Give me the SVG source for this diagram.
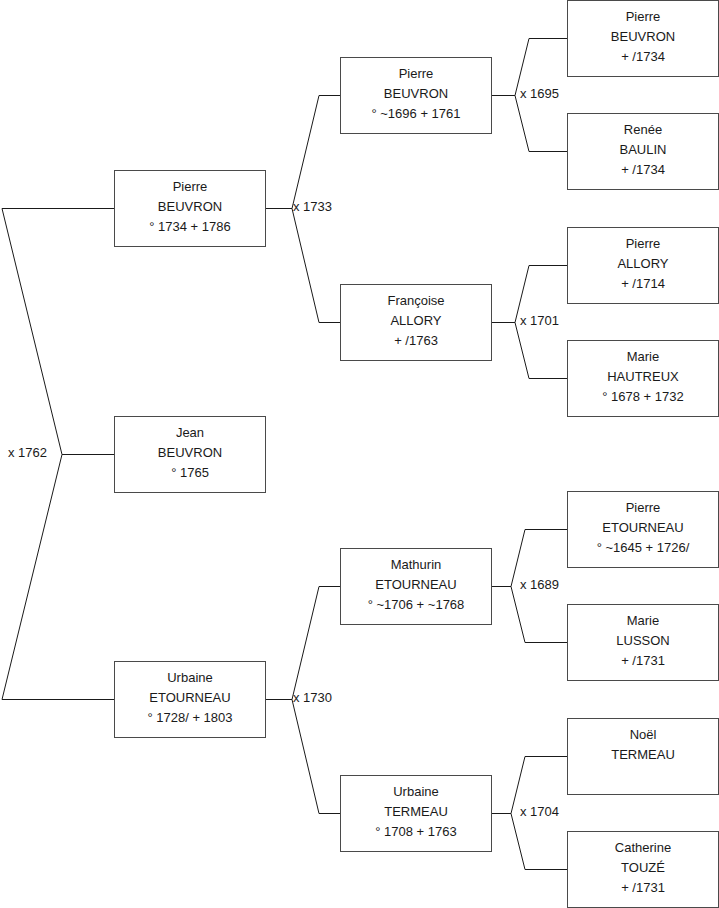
<svg xmlns="http://www.w3.org/2000/svg" width="719" height="908" viewBox="0 0 719 908">
<style>
.box{fill:#fff;stroke:#4a4a4a;stroke-width:1}
.t{font-family:"Liberation Sans",Arial,sans-serif;font-size:13px;fill:#1a1a1a;text-anchor:middle}
.lbl{font-family:"Liberation Sans",Arial,sans-serif;font-size:13px;fill:#1a1a1a}
.ln{fill:none;stroke:#1a1a1a;stroke-width:1}
</style>
<rect width="719" height="908" fill="#fff"/>
<g id="connectors">
<path class="ln" d="M114,208.5 H2 L62,454.5 L2,699.5 H114 M62,454.5 H114"/>
<path class="ln" d="M265,208.5 H292 M340,95.5 H319 L292,208.5 L319,322.5 H340"/>
<path class="ln" d="M265,699.5 H292 M340,586.5 H319 L292,699.5 L319,813.5 H340"/>
<path class="ln" d="M491,95.5 H515 M567,38.5 H529 L515,95.5 L529,151.5 H567"/>
<path class="ln" d="M491,322.5 H515 M567,265.5 H529 L515,322.5 L529,378.5 H567"/>
<path class="ln" d="M491,586.5 H511 M567,529.5 H525 L511,586.5 L525,642.5 H567"/>
<path class="ln" d="M491,813.5 H511 M567,756.5 H525 L511,813.5 L525,869.5 H567"/>
<text class="lbl" x="8" y="456.5">x 1762</text>
<text class="lbl" x="293" y="210.5">x 1733</text>
<text class="lbl" x="293" y="701.5">x 1730</text>
<text class="lbl" x="520" y="97.5">x 1695</text>
<text class="lbl" x="520" y="324.5">x 1701</text>
<text class="lbl" x="520" y="588.5">x 1689</text>
<text class="lbl" x="520" y="815.5">x 1704</text>
</g>
<g id="n-pierre-beuvron-1734">
<rect class="box" x="114.5" y="170.5" width="151" height="76"/>
<text class="t" x="190" y="190.5">Pierre</text><text class="t" x="190" y="210.5">BEUVRON</text><text class="t" x="190" y="230.5">° 1734 + 1786</text>
</g>
<g id="n-jean-beuvron">
<rect class="box" x="114.5" y="416.5" width="151" height="76"/>
<text class="t" x="190" y="436.5">Jean</text><text class="t" x="190" y="456.5">BEUVRON</text><text class="t" x="190" y="476.5">° 1765</text>
</g>
<g id="n-urbaine-etourneau">
<rect class="box" x="114.5" y="661.5" width="151" height="76"/>
<text class="t" x="190" y="681.5">Urbaine</text><text class="t" x="190" y="701.5">ETOURNEAU</text><text class="t" x="190" y="721.5">° 1728/ + 1803</text>
</g>
<g id="n-pierre-beuvron-1696">
<rect class="box" x="340.5" y="57.5" width="151" height="76"/>
<text class="t" x="416" y="77.5">Pierre</text><text class="t" x="416" y="97.5">BEUVRON</text><text class="t" x="416" y="117.5">° ~1696 + 1761</text>
</g>
<g id="n-francoise-allory">
<rect class="box" x="340.5" y="284.5" width="151" height="76"/>
<text class="t" x="416" y="304.5">Françoise</text><text class="t" x="416" y="324.5">ALLORY</text><text class="t" x="416" y="344.5">+ /1763</text>
</g>
<g id="n-mathurin-etourneau">
<rect class="box" x="340.5" y="548.5" width="151" height="76"/>
<text class="t" x="416" y="568.5">Mathurin</text><text class="t" x="416" y="588.5">ETOURNEAU</text><text class="t" x="416" y="608.5">° ~1706 + ~1768</text>
</g>
<g id="n-urbaine-termeau">
<rect class="box" x="340.5" y="775.5" width="151" height="76"/>
<text class="t" x="416" y="795.5">Urbaine</text><text class="t" x="416" y="815.5">TERMEAU</text><text class="t" x="416" y="835.5">° 1708 + 1763</text>
</g>
<g id="n-pierre-beuvron-old">
<rect class="box" x="567.5" y="0.5" width="151" height="76"/>
<text class="t" x="643" y="20.5">Pierre</text><text class="t" x="643" y="40.5">BEUVRON</text><text class="t" x="643" y="60.5">+ /1734</text>
</g>
<g id="n-renee-baulin">
<rect class="box" x="567.5" y="113.5" width="151" height="76"/>
<text class="t" x="643" y="133.5">Renée</text><text class="t" x="643" y="153.5">BAULIN</text><text class="t" x="643" y="173.5">+ /1734</text>
</g>
<g id="n-pierre-allory">
<rect class="box" x="567.5" y="227.5" width="151" height="76"/>
<text class="t" x="643" y="247.5">Pierre</text><text class="t" x="643" y="267.5">ALLORY</text><text class="t" x="643" y="287.5">+ /1714</text>
</g>
<g id="n-marie-hautreux">
<rect class="box" x="567.5" y="340.5" width="151" height="76"/>
<text class="t" x="643" y="360.5">Marie</text><text class="t" x="643" y="380.5">HAUTREUX</text><text class="t" x="643" y="400.5">° 1678 + 1732</text>
</g>
<g id="n-pierre-etourneau">
<rect class="box" x="567.5" y="491.5" width="151" height="76"/>
<text class="t" x="643" y="511.5">Pierre</text><text class="t" x="643" y="531.5">ETOURNEAU</text><text class="t" x="643" y="551.5">° ~1645 + 1726/</text>
</g>
<g id="n-marie-lusson">
<rect class="box" x="567.5" y="604.5" width="151" height="76"/>
<text class="t" x="643" y="624.5">Marie</text><text class="t" x="643" y="644.5">LUSSON</text><text class="t" x="643" y="664.5">+ /1731</text>
</g>
<g id="n-noel-termeau">
<rect class="box" x="567.5" y="718.5" width="151" height="76"/>
<text class="t" x="643" y="738.5">Noël</text><text class="t" x="643" y="758.5">TERMEAU</text>
</g>
<g id="n-catherine-touze">
<rect class="box" x="567.5" y="831.5" width="151" height="76"/>
<text class="t" x="643" y="851.5">Catherine</text><text class="t" x="643" y="871.5">TOUZÉ</text><text class="t" x="643" y="891.5">+ /1731</text>
</g>
</svg>
